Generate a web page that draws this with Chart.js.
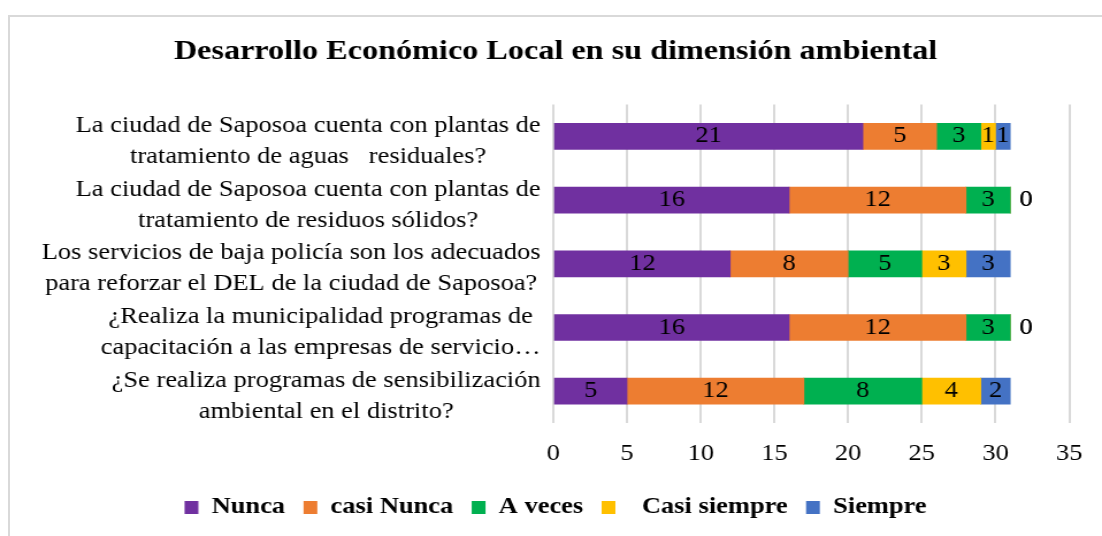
<!DOCTYPE html>
<html>
<head>
<meta charset="utf-8">
<script src="https://cdn.jsdelivr.net/npm/chart.js@4.4.1/dist/chart.umd.min.js"></script>
<style>
  html, body { margin: 0; padding: 0; background: #fff; overflow: hidden; }
  #frame { position: absolute; left: 8px; top: 15px; width: 1110px; height: 540px; border: 2px solid #d9d9d9; }
  #chart { position: absolute; left: 0; top: 0; }
</style>
</head>
<body>
<div id="frame"></div>
<canvas id="chart" width="958" height="536" style="width:1102px;height:536px"></canvas>
<script>
  // Questions (y axis)
  const categories = [
    ['La ciudad de Saposoa cuenta con plantas de', 'tratamiento de aguas   residuales?'],
    ['La ciudad de Saposoa cuenta con plantas de', 'tratamiento de residuos sólidos?'],
    ['Los servicios de baja policía son los adecuados', 'para reforzar el DEL de la ciudad de Saposoa?'],
    ['¿Realiza la municipalidad programas de', 'capacitación a las empresas de servicio…'],
    ['¿Se realiza programas de sensibilización', 'ambiental en el distrito?']
  ];

  // Answers per question
  const nunca = [21, 16, 12, 16, 5];
  const casiNunca = [5, 12, 8, 12, 12];
  const aVeces = [3, 3, 5, 3, 8];
  const casiSiempre = [1, 0, 3, 0, 4];
  const siempre = [1, 0, 3, 0, 2];

  const seriesNames = ['Nunca', 'casi Nunca', 'A veces', '  Casi siempre', 'Siempre'];
  const seriesColors = ['#7030A0', '#ED7D31', '#00B050', '#FFC000', '#4472C4'];

  const xMax = 35;
  const xStep = 5;

  const SERIF = "'Times New Roman', 'Liberation Serif', serif";

  // value labels inside the segments (zeros go just past the bar end)
  const barLabels = {
    id: 'barLabels',
    afterDatasetsDraw(chart) {
      const ctx = chart.ctx;
      ctx.save();
      ctx.font = '23px ' + SERIF;
      ctx.fillStyle = '#000';
      ctx.textBaseline = 'middle';
      chart.data.datasets.forEach((ds, i) => {
        chart.getDatasetMeta(i).data.forEach((bar, j) => {
          const v = ds.data[j];
          if (v === 0) {
            ctx.textAlign = 'left';
            ctx.fillText('0', bar.x + 8, bar.y);
          } else {
            ctx.textAlign = 'center';
            ctx.fillText(String(v), (bar.x + bar.base) / 2, bar.y);
          }
        });
      });
      ctx.restore();
    }
  };

  // Excel-like question labels: lines centred on each other, block right aligned
  const labelBlocks = {
    id: 'labelBlocks',
    beforeDraw(chart) {
      const scale = chart.scales.y;
      const ctx = chart.ctx;
      const right = scale.right - scale.options.ticks.padding;
      ctx.save();
      scale.getLabelItems(chart.chartArea).forEach(item => {
        ctx.font = item.font.string;
        const lines = [].concat(item.label);
        const w = Math.max(...lines.map(l => ctx.measureText(l).width));
        const t = item.options.translation;
        item.options.translation = [right - w / 2, t[1] + 5];
      });
      ctx.restore();
    }
  };

  const allSeries = [nunca, casiNunca, aVeces, casiSiempre, siempre];

  new Chart(document.getElementById('chart'), {
    type: 'bar',
    data: {
      labels: categories,
      datasets: allSeries.map((vals, i) => ({
        label: seriesNames[i],
        data: vals,
        backgroundColor: seriesColors[i],
        borderWidth: 0,
        barThickness: 26
      }))
    },
    options: {
      indexAxis: 'y',
      responsive: false,
      devicePixelRatio: 1,
      animation: false,
      layout: { padding: { left: 34, right: 26, top: 20, bottom: 7 } },
      scales: {
        x: {
          stacked: true,
          min: 0,
          max: xMax,
          ticks: { stepSize: xStep, padding: 17, color: '#000', font: { family: SERIF, size: 23 } },
          grid: { color: '#d9d9d9', lineWidth: 2, drawTicks: false },
          border: { display: false },
          afterFit(scale) { scale.height = 57; }
        },
        y: {
          stacked: true,
          ticks: {
            autoSkip: false,
            crossAlign: 'center',
            padding: 11,
            color: '#000',
            font: { family: SERIF, size: 23, lineHeight: 1.35 }
          },
          grid: { display: false },
          border: { display: false },
          afterFit(scale) { scale.width = 447; }
        }
      },
      plugins: {
        title: {
          display: true,
          text: 'Desarrollo Económico Local en su dimensión ambiental',
          color: '#000',
          font: { family: SERIF, size: 28, weight: 'bold' },
          padding: { top: 15, bottom: 36 }
        },
        legend: {
          position: 'bottom',
          labels: {
            color: '#000',
            boxWidth: 12,
            boxHeight: 13,
            padding: 16,
            font: { family: SERIF, size: 23, weight: 'bold' }
          }
        },
        tooltip: { enabled: false }
      }
    },
    plugins: [barLabels, labelBlocks]
  });
</script>
</body>
</html>
